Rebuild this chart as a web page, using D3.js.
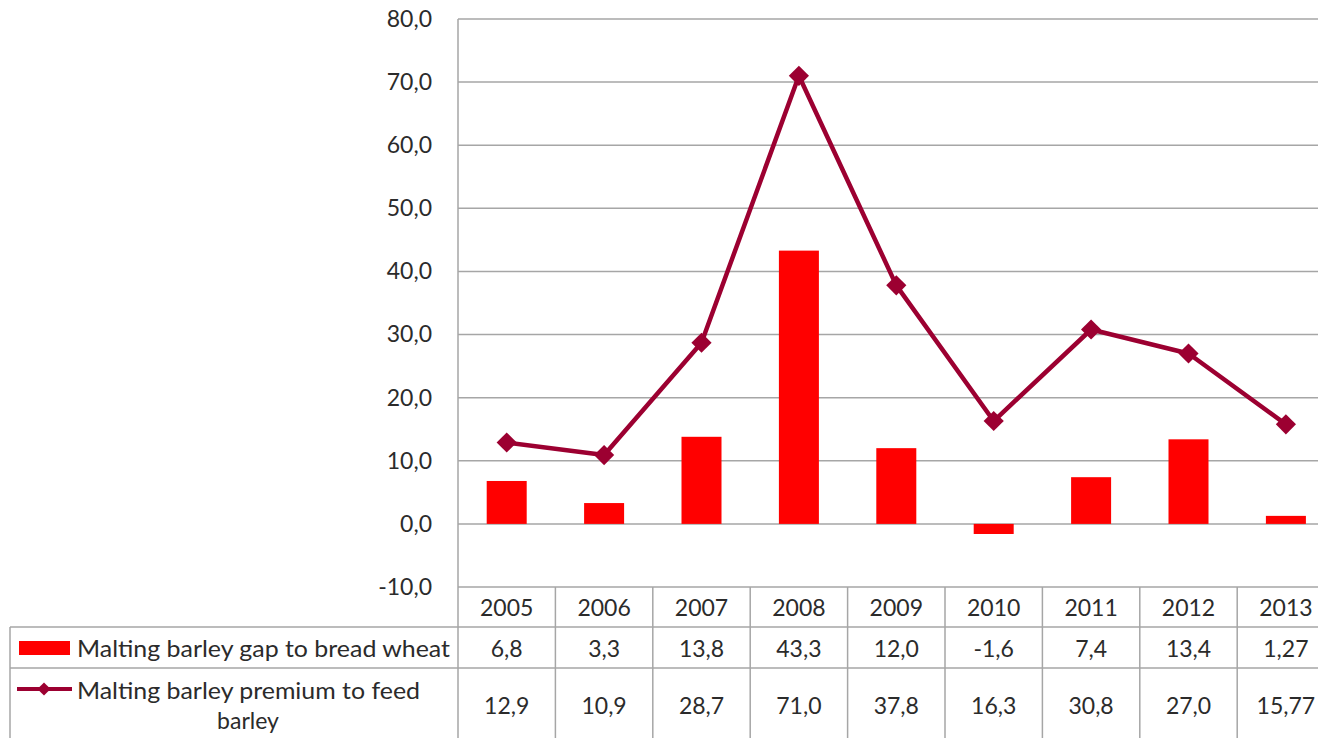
<!DOCTYPE html>
<html>
<head>
<meta charset="utf-8">
<script src="https://cdn.jsdelivr.net/npm/d3@7"></script>
<style>
html,body{margin:0;padding:0;background:#fff;overflow:hidden;}
svg{display:block;}
text{font-family:Lato,"Open Sans",sans-serif;fill:#2b2b2b;}
</style>
</head>
<body>
<svg id="chart" width="1318" height="738"></svg>
<script>
const years = ["2005","2006","2007","2008","2009","2010","2011","2012","2013"];
const gapValues = [6.8, 3.3, 13.8, 43.3, 12.0, -1.6, 7.4, 13.4, 1.27];
const premiumValues = [12.9, 10.9, 28.7, 71.0, 37.8, 16.3, 30.8, 27.0, 15.77];
const yTicks = [-10, 0, 10, 20, 30, 40, 50, 60, 70, 80];
const seriesNames = ["Malting barley gap to bread wheat", "Malting barley premium to feed barley"];

const svg = d3.select("#chart");
const fontSize = 23;
const gridColor = "#a6a6a6";
const barColor = "#ff0000";
const lineColor = "#9c0031";

const plotLeft = 458, bandW = 97.4;
const x = d3.scaleBand().domain(years).range([plotLeft, plotLeft + bandW * years.length]).padding(0);
const y = d3.scaleLinear().domain([-10, 80]).range([587, 19]);

const locale = d3.formatLocale({decimal: ",", thousands: " ", grouping: [3], currency: ["", ""], minus: "-"});
const f1 = locale.format(".1f"), f2 = locale.format(".2f");
const fmt = v => (Math.abs(Math.round(v * 10) - v * 10) > 1e-6 ? f2(v) : f1(v));

const right = x.range()[1];

// gridlines
svg.append("g").selectAll("line").data(yTicks).join("line")
  .attr("x1", plotLeft).attr("x2", right)
  .attr("y1", d => y(d)).attr("y2", d => y(d))
  .attr("stroke", gridColor).attr("stroke-width", 1.5);

// y axis
const yAxis = d3.axisLeft(y).tickValues(yTicks).tickFormat(f1).tickSize(0).tickPadding(26);
const ya = svg.append("g").attr("transform", `translate(${plotLeft},0)`).call(yAxis);
ya.select(".domain").remove();
ya.selectAll("text").attr("font-size", fontSize).attr("font-family", "Lato, 'Open Sans', sans-serif").attr("fill", "#2b2b2b");

// vertical axis line
svg.append("line").attr("x1", plotLeft).attr("x2", plotLeft).attr("y1", y(80)).attr("y2", 738)
  .attr("stroke", gridColor).attr("stroke-width", 1.5);

// bars
const barW = 40;
svg.append("g").selectAll("rect").data(years).join("rect")
  .attr("x", (d) => x(d) + x.bandwidth() / 2 - barW / 2)
  .attr("width", barW)
  .attr("y", (d, i) => Math.min(y(gapValues[i]), y(0)))
  .attr("height", (d, i) => Math.abs(y(gapValues[i]) - y(0)))
  .attr("fill", barColor);

// line
const line = d3.line().x((d, i) => x(years[i]) + x.bandwidth() / 2).y(d => y(d));
svg.append("path").datum(premiumValues).attr("d", line)
  .attr("fill", "none").attr("stroke", lineColor).attr("stroke-width", 4.5).attr("stroke-linejoin", "round");
const diamond = d3.symbol().type(d3.symbolDiamond2).size(260);
svg.append("g").selectAll("path").data(premiumValues).join("path")
  .attr("transform", (d, i) => `translate(${x(years[i]) + x.bandwidth() / 2},${y(d)})`)
  .attr("d", diamond).attr("fill", lineColor);

// data table
const rowTop = [587, 627, 668, 760];
const tableLeft = 10;
const tg = svg.append("g");
tg.append("line").attr("x1", tableLeft).attr("x2", right).attr("y1", rowTop[1]).attr("y2", rowTop[1]).attr("stroke", gridColor).attr("stroke-width", 1.5);
tg.append("line").attr("x1", tableLeft).attr("x2", right).attr("y1", rowTop[2]).attr("y2", rowTop[2]).attr("stroke", gridColor).attr("stroke-width", 1.5);
tg.append("line").attr("x1", tableLeft).attr("x2", tableLeft).attr("y1", rowTop[1]).attr("y2", 738).attr("stroke", gridColor).attr("stroke-width", 1.5);
tg.selectAll("line.v").data(years).join("line").attr("class", "v")
  .attr("x1", d => x(d) + x.bandwidth()).attr("x2", d => x(d) + x.bandwidth())
  .attr("y1", rowTop[0]).attr("y2", 738).attr("stroke", gridColor).attr("stroke-width", 1.5);

tg.selectAll("text.yr").data(years).join("text").attr("class", "yr")
  .attr("x", d => x(d) + x.bandwidth() / 2).attr("y", 607)
  .attr("text-anchor", "middle").attr("dominant-baseline", "central").attr("font-size", fontSize)
  .text(d => d);
tg.selectAll("text.r1").data(gapValues).join("text").attr("class", "r1")
  .attr("x", (d, i) => x(years[i]) + x.bandwidth() / 2).attr("y", 648)
  .attr("text-anchor", "middle").attr("dominant-baseline", "central").attr("font-size", fontSize)
  .text(d => fmt(d));
tg.selectAll("text.r2").data(premiumValues).join("text").attr("class", "r2")
  .attr("x", (d, i) => x(years[i]) + x.bandwidth() / 2).attr("y", 705)
  .attr("text-anchor", "middle").attr("dominant-baseline", "central").attr("font-size", fontSize)
  .text(d => fmt(d));

// legend keys
tg.append("rect").attr("x", 19).attr("y", 641).attr("width", 51).attr("height", 14).attr("fill", barColor);
tg.append("line").attr("x1", 17).attr("x2", 72).attr("y1", 689).attr("y2", 689).attr("stroke", lineColor).attr("stroke-width", 4);
tg.append("path").attr("transform", "translate(44,689)").attr("d", d3.symbol().type(d3.symbolDiamond2).size(110)).attr("fill", lineColor);

// legend labels
tg.append("text").attr("x", 77).attr("y", 648).attr("dominant-baseline", "central").attr("font-size", fontSize)
  .attr("textLength", 373).attr("lengthAdjust", "spacingAndGlyphs")
  .text(seriesNames[0]);
const words = seriesNames[1].split(" ");
const l1 = words.slice(0, words.length - 1).join(" ");
const l2 = words[words.length - 1];
tg.append("text").attr("x", 77).attr("y", 690).attr("dominant-baseline", "central").attr("font-size", fontSize)
  .attr("textLength", 343).attr("lengthAdjust", "spacingAndGlyphs")
  .text(l1);
tg.append("text").attr("x", 248).attr("y", 720).attr("text-anchor", "middle").attr("dominant-baseline", "central").attr("font-size", fontSize)
  .text(l2);
</script>
</body>
</html>
